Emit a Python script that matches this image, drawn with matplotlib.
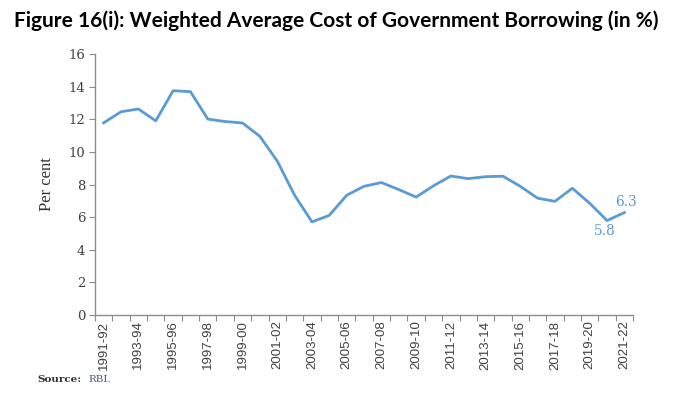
import matplotlib
matplotlib.use("Agg")
import matplotlib.pyplot as plt
import numpy as np

# data
years = ['1991-92', '1992-93', '1993-94', '1994-95', '1995-96', '1996-97',
         '1997-98', '1998-99', '1999-00', '2000-01', '2001-02', '2002-03',
         '2003-04', '2004-05', '2005-06', '2006-07', '2007-08', '2008-09',
         '2009-10', '2010-11', '2011-12', '2012-13', '2013-14', '2014-15',
         '2015-16', '2016-17', '2017-18', '2018-19', '2019-20', '2020-21',
         '2021-22']
cost = [11.78, 12.46, 12.63, 11.90, 13.75, 13.69, 12.01, 11.86, 11.77, 10.95,
        9.44, 7.34, 5.71, 6.11, 7.34, 7.89, 8.12, 7.69, 7.23, 7.92, 8.52,
        8.36, 8.48, 8.51, 7.89, 7.16, 6.97, 7.77, 6.85, 5.79, 6.28]
yticks = [0, 2, 4, 6, 8, 10, 12, 14, 16]

line_color = '#5b9bd5'
axis_color = '#8c8c8c'
text_color = '#404040'

fig = plt.figure(figsize=(6.8, 3.95), dpi=100)
ax = fig.add_axes([0.1397, 0.2025, 0.7913, 0.6608])

x = np.arange(len(years))
ax.plot(x, cost, color=line_color, linewidth=2.0)

# labels on last two points
ax.annotate('5.8', (x[-2], cost[-2]), xytext=(-2, -7.5), textcoords='offset points',
            ha='center', va='center', color=line_color, fontsize=10,
            family='DejaVu Serif')
ax.annotate('6.3', (x[-1], cost[-1]), xytext=(1.5, 7.5), textcoords='offset points',
            ha='center', va='center', color=line_color, fontsize=10,
            family='DejaVu Serif')

ax.set_xlim(-0.5, len(years) - 0.5)
ax.set_ylim(0, 16)
ax.set_yticks(yticks)
ax.set_yticklabels([str(v) for v in yticks], family='DejaVu Serif',
                   fontsize=9.5, color=text_color)

# ticks between categories, labels on every other category
ax.set_xticks(np.arange(-0.5, len(years), 1.0))
ax.set_xticklabels([])
ax.set_xticks(x[::2], minor=True)
ax.set_xticklabels(years[::2], minor=True, rotation=90,
                   family=['Liberation Sans Narrow', 'Liberation Sans'],
                   fontsize=9.5, color=text_color)
ax.tick_params(axis='x', which='minor', length=0, pad=4)
ax.tick_params(axis='x', which='major', length=4, color=axis_color)
ax.tick_params(axis='y', length=4, color=axis_color, pad=3)

for s in ['top', 'right']:
    ax.spines[s].set_visible(False)
for s in ['left', 'bottom']:
    ax.spines[s].set_color(axis_color)
    ax.spines[s].set_linewidth(1.0)

ax.set_ylabel('Per cent', family='Liberation Serif', fontsize=12,
              color='#333333', labelpad=10)

fig.text(14 / 680, 1 - 21 / 395, 'Figure 16(i): Weighted Average Cost of Government Borrowing (in %)',
         fontsize=15, fontweight='bold', family='Lato', va='center', ha='left',
         color='black')

fig.text(37 / 680, 1 - 380 / 395, 'Source:', fontsize=7.5, fontweight='bold',
         family='DejaVu Serif', va='center', ha='left', color='#333333')
fig.text(88 / 680, 1 - 380 / 395, 'RBI.', fontsize=7.5,
         family='DejaVu Serif', va='center', ha='left', color='#4a5a7a')

fig.savefig('out.png', dpi=100)
